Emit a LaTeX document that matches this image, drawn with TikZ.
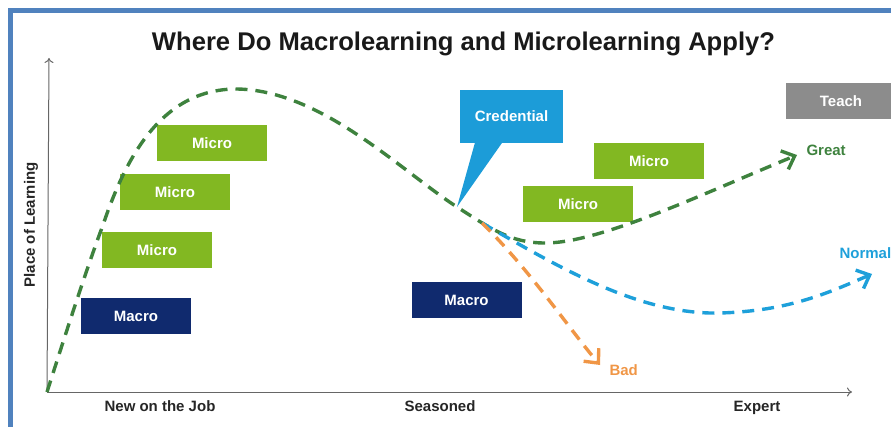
\documentclass[tikz,border=0pt]{standalone}
\usepackage{fontspec}
\setmainfont{Liberation Sans}
\definecolor{microgreen}{RGB}{130, 184, 34}
\definecolor{macronavy}{RGB}{16, 42, 110}
\definecolor{credblue}{RGB}{28, 156, 216}
\definecolor{teachgray}{RGB}{140, 140, 140}
\definecolor{greatgreen}{RGB}{62, 130, 62}
\definecolor{normalblue}{RGB}{30, 160, 218}
\definecolor{badorange}{RGB}{240, 150, 70}
\definecolor{frameblue}{RGB}{80, 130, 190}
\usetikzlibrary{arrows.meta, positioning}

\begin{document}
\begin{tikzpicture}[x=1pt, y=-1pt,
  every node/.style={font=\fontsize{15}{18}\selectfont\bfseries},
  microbox/.style={fill=microgreen, text=white, minimum width=110pt, minimum height=36pt, inner sep=0pt},
  macrobox/.style={microbox, fill=macronavy},
  trend/.style={line width=3.4pt, dash pattern=on 12pt off 8pt, -{Straight Barb[length=11pt, width=20pt]}},
  axisline/.style={draw=gray!80!black, line width=1pt, -{To[length=5pt, width=9pt]}},
  axislabel/.style={anchor=base, text=black!85}]
  \useasboundingbox (0,0) rectangle (891,427);

  % frame
  \draw[frameblue, line width=5pt] (10.5,427) -- (10.5,10.5) -- (891,10.5);

  \node[font=\fontsize{25.6}{30}\selectfont\bfseries, text=black!90] (title) at (463.5,44) {Where Do Macrolearning and Microlearning Apply?};

  % axes
  \coordinate (origin) at (47,392);
  \coordinate (ytop) at (49,58);
  \coordinate (xend) at (852,392);
  \draw[axisline] (origin) -- (ytop);
  \draw[axisline] (origin) -- (xend);
  \node[rotate=90, text=black!85] (ylabel) at (31,225) {Place of Learning};
  \node[axislabel] (newjob) at (160,411) {New on the Job};
  \node[axislabel] (seasoned) at (440,411) {Seasoned};
  \node[axislabel] (expert) at (757,411) {Expert};

  % boxes
  \node[microbox] (micro1) at (212,143) {Micro};
  \node[microbox] (micro2) at (175,192.5) {Micro};
  \node[microbox] (micro3) at (157,250.5) {Micro};
  \node[macrobox] (macro1) at (136,316) {Macro};
  \node[macrobox] (macro2) at (466.5,300) {Macro};
  \node[microbox] (micro4) at (649,161) {Micro};
  \node[microbox] (micro5) at (578,204) {Micro};
  \node[microbox, fill=teachgray] (teach) at (841,101) {Teach};

  % callout
  \coordinate (split) at (457,207);
  \node[microbox, fill=credblue, minimum width=103pt, minimum height=53pt] (cred) at (511.5,116.5) {Credential};
  \fill[credblue] ([xshift=15pt]cred.south west) -- (split) -- ([xshift=42pt]cred.south west) -- cycle;

  % curves
  \coordinate (fork) at (482,223);
  \draw[trend, greatgreen] (origin) .. controls (70,320) and (88,265) .. (103,225)
    .. controls (125,160) and (160,90) .. (235,89)
    .. controls (320,89) and (400,170) .. (split)
    .. controls (490,228) and (510,243) .. (545,243)
    .. controls (600,243) and (700,195) .. (797,155);
  \draw[trend, normalblue] (fork) .. controls (560,268) and (640,315) .. (720,313)
    .. controls (790,311) and (830,292) .. (872,274);
  \draw[trend, badorange] (fork) .. controls (530,270) and (570,330) .. (600,365);

  \node[anchor=west, text=greatgreen] (great) at (803,150) {Great};
  \node[anchor=west, text=normalblue] (normal) at (836,253) {Normal};
  \node[anchor=west, text=badorange] (bad) at (606,370) {Bad};
\end{tikzpicture}
\end{document}
